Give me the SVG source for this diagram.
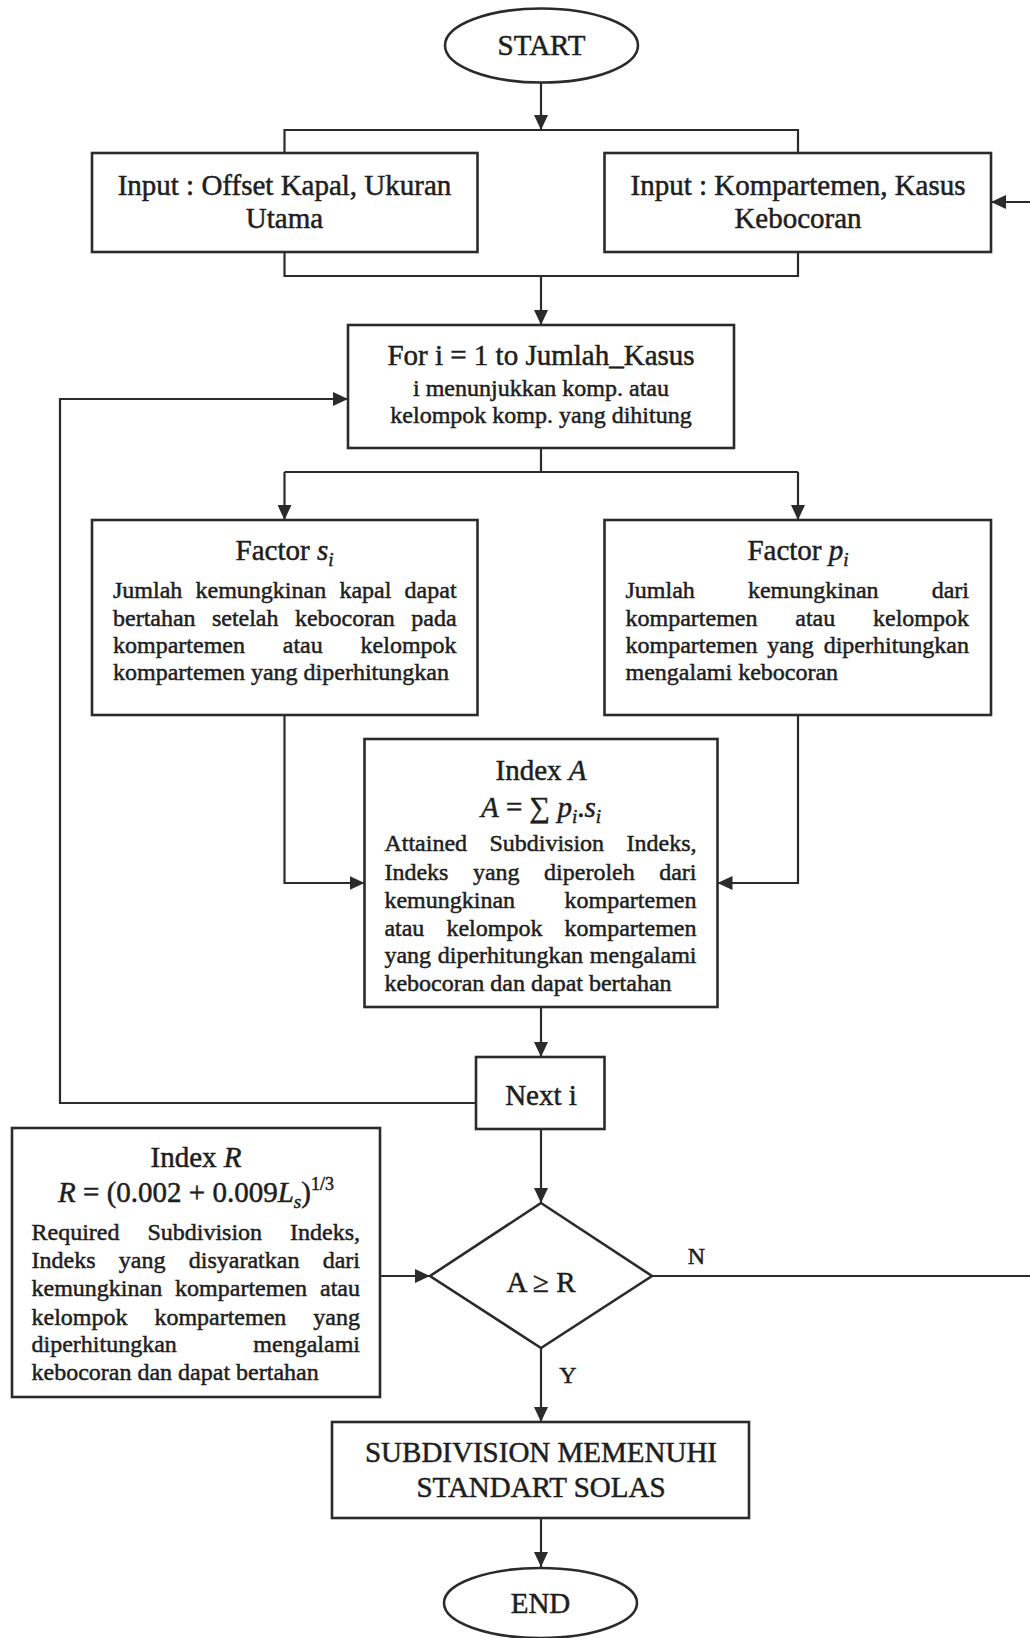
<svg xmlns="http://www.w3.org/2000/svg" width="1030" height="1638" viewBox="0 0 1030 1638">
  <style>
    .box { fill: #ffffff; stroke: #2b2b2b; stroke-width: 2.6; }
    .ln { fill: none; stroke: #2b2b2b; stroke-width: 2.2; }
    .arr { marker-end: url(#head); }
    text { font-family: "Liberation Serif", "Times New Roman", serif; fill: #1e1e1e; stroke: #1e1e1e; stroke-width: 0.5; }
    .h { font-size: 29px; text-anchor: middle; }
    .b { font-size: 24px; }
    .c { text-anchor: middle; }
    .e { text-anchor: end; }
    .i { font-style: italic; }
  </style>
  <defs>
    <marker id="head" viewBox="0 0 15 14" refX="15" refY="7" markerWidth="15" markerHeight="14" markerUnits="userSpaceOnUse" orient="auto">
      <path d="M0,0 L15,7 L0,14 Z" fill="#2b2b2b"/>
    </marker>
  </defs>

  <rect width="1030" height="1638" fill="#ffffff"/>

  <!-- connectors -->
  <g id="connectors">
    <path class="ln arr" d="M541,83 V130"/>
    <path class="ln" d="M284.5,153 V130 H798 V153"/>
    <path class="ln" d="M284.5,252 V276 H798 V252"/>
    <path class="ln arr" d="M541,276 V325"/>
    <path class="ln" d="M541,448 V472 M284.5,472 H798"/>
    <path class="ln arr" d="M284.5,472 V520"/>
    <path class="ln arr" d="M798,472 V520"/>
    <path class="ln arr" d="M284.5,715 V883 H364.5"/>
    <path class="ln arr" d="M798,715 V883 H717.5"/>
    <path class="ln arr" d="M541,1007 V1057"/>
    <path class="ln arr" d="M476,1103 H60 V399 H348"/>
    <path class="ln arr" d="M541,1129 V1203"/>
    <path class="ln arr" d="M380,1276 H430"/>
    <path class="ln arr" d="M652,1276 H1036 V202 H991"/>
    <path class="ln arr" d="M541,1348 V1422"/>
    <path class="ln arr" d="M541,1518 V1567"/>
    <text class="b c" x="696.5" y="1264">N</text>
    <text class="b c" x="568" y="1383">Y</text>
  </g>

  <g id="start">
    <ellipse class="box" cx="541.5" cy="45.5" rx="96.5" ry="37"/>
    <text class="h" x="541.5" y="55">START</text>
  </g>

  <g id="input-ship">
    <rect class="box" x="92" y="153" width="385.5" height="99"/>
    <text class="h" x="284.5" y="195">Input : Offset Kapal, Ukuran</text>
    <text class="h" x="284.5" y="228">Utama</text>
  </g>

  <g id="input-case">
    <rect class="box" x="604.5" y="153" width="386.5" height="99"/>
    <text class="h" x="798" y="195">Input : Kompartemen, Kasus</text>
    <text class="h" x="798" y="228">Kebocoran</text>
  </g>

  <g id="loop-start">
    <rect class="box" x="348" y="325" width="386" height="123"/>
    <text class="h" x="541" y="365">For i = 1 to Jumlah_Kasus</text>
    <text class="b c" x="541" y="396">i menunjukkan komp. atau</text>
    <text class="b c" x="541" y="423">kelompok komp. yang dihitung</text>
  </g>

  <!-- justified paragraphs: each word placed on its own, last word flush right -->
  <g id="factor-s">
    <rect class="box" x="92" y="520" width="385.5" height="195"/>
    <text class="h" x="284.5" y="560">Factor <tspan class="i">s</tspan><tspan class="i" font-size="19" dy="6">i</tspan></text>
    <text class="b"><tspan x="113" y="598">Jumlah</tspan><tspan x="195.5" y="598">kemungkinan</tspan><tspan x="339.4" y="598">kapal</tspan><tspan class="e" x="456.6" y="598">dapat</tspan></text>
    <text class="b"><tspan x="113" y="626">bertahan</tspan><tspan x="211.9" y="626">setelah</tspan><tspan x="294.9" y="626">kebocoran</tspan><tspan class="e" x="456.6" y="626">pada</tspan></text>
    <text class="b"><tspan x="113" y="653">kompartemen</tspan><tspan x="282.8" y="653">atau</tspan><tspan class="e" x="456.6" y="653">kelompok</tspan></text>
    <text class="b" x="113" y="680">kompartemen yang diperhitungkan</text>
  </g>

  <g id="factor-p">
    <rect class="box" x="604.5" y="520" width="386.5" height="195"/>
    <text class="h" x="798" y="560">Factor <tspan class="i">p</tspan><tspan class="i" font-size="19" dy="6">i</tspan></text>
    <text class="b"><tspan x="625.5" y="598">Jumlah</tspan><tspan x="747.9" y="598">kemungkinan</tspan><tspan class="e" x="969" y="598">dari</tspan></text>
    <text class="b"><tspan x="625.5" y="626">kompartemen</tspan><tspan x="795.3" y="626">atau</tspan><tspan class="e" x="969" y="626">kelompok</tspan></text>
    <text class="b"><tspan x="625.5" y="653">kompartemen</tspan><tspan x="767.2" y="653">yang</tspan><tspan class="e" x="969" y="653">diperhitungkan</tspan></text>
    <text class="b" x="625.5" y="680">mengalami kebocoran</text>
  </g>

  <g id="index-a">
    <rect class="box" x="364.5" y="739" width="353" height="268"/>
    <text class="h" x="541" y="780">Index <tspan class="i">A</tspan></text>
    <text class="h" x="541" y="817"><tspan class="i">A</tspan> = ∑ <tspan class="i">p</tspan><tspan class="i" font-size="19" dy="6">i</tspan><tspan dy="-6">.</tspan><tspan class="i">s</tspan><tspan class="i" font-size="19" dy="6">i</tspan></text>
    <text class="b"><tspan x="384.4" y="851">Attained</tspan><tspan x="489.4" y="851">Subdivision</tspan><tspan class="e" x="696.5" y="851">Indeks,</tspan></text>
    <text class="b"><tspan x="384.4" y="880">Indeks</tspan><tspan x="472.9" y="880">yang</tspan><tspan x="544.1" y="880">diperoleh</tspan><tspan class="e" x="696.5" y="880">dari</tspan></text>
    <text class="b"><tspan x="384.4" y="908">kemungkinan</tspan><tspan class="e" x="696.5" y="908">kompartemen</tspan></text>
    <text class="b"><tspan x="384.4" y="936">atau</tspan><tspan x="446.4" y="936">kelompok</tspan><tspan class="e" x="696.5" y="936">kompartemen</tspan></text>
    <text class="b"><tspan x="384.4" y="963">yang</tspan><tspan x="437.8" y="963">diperhitungkan</tspan><tspan class="e" x="696.5" y="963">mengalami</tspan></text>
    <text class="b" x="384.4" y="991">kebocoran dan dapat bertahan</text>
  </g>

  <g id="loop-next">
    <rect class="box" x="476" y="1057" width="128.5" height="72"/>
    <text class="h" x="541" y="1105">Next i</text>
  </g>

  <g id="index-r">
    <rect class="box" x="12" y="1128" width="368" height="269"/>
    <text class="h" x="196" y="1167">Index <tspan class="i">R</tspan></text>
    <text class="h" x="196" y="1202"><tspan class="i">R</tspan> = (0.002 + 0.009<tspan class="i">L</tspan><tspan class="i" font-size="19" dy="6">s</tspan><tspan dy="-6">)</tspan><tspan font-size="18" dy="-12">1/3</tspan></text>
    <text class="b"><tspan x="31.5" y="1240">Required</tspan><tspan x="147.4" y="1240">Subdivision</tspan><tspan class="e" x="360" y="1240">Indeks,</tspan></text>
    <text class="b"><tspan x="31.5" y="1268">Indeks</tspan><tspan x="118.8" y="1268">yang</tspan><tspan x="188.8" y="1268">disyaratkan</tspan><tspan class="e" x="360" y="1268">dari</tspan></text>
    <text class="b"><tspan x="31.5" y="1296">kemungkinan</tspan><tspan x="175.1" y="1296">kompartemen</tspan><tspan class="e" x="360" y="1296">atau</tspan></text>
    <text class="b"><tspan x="31.5" y="1325">kelompok</tspan><tspan x="154.4" y="1325">kompartemen</tspan><tspan class="e" x="360" y="1325">yang</tspan></text>
    <text class="b"><tspan x="31.5" y="1352">diperhitungkan</tspan><tspan class="e" x="360" y="1352">mengalami</tspan></text>
    <text class="b" x="31.5" y="1380">kebocoran dan dapat bertahan</text>
  </g>

  <g id="check">
    <path class="box" d="M541,1203 L652,1276 L541,1348 L430,1276 Z"/>
    <text class="h" x="541" y="1292">A ≥ R</text>
  </g>

  <g id="result">
    <rect class="box" x="332" y="1422" width="417" height="96"/>
    <text class="h" x="541" y="1462">SUBDIVISION MEMENUHI</text>
    <text class="h" x="541" y="1497">STANDART SOLAS</text>
  </g>

  <g id="end">
    <ellipse class="box" cx="540.5" cy="1603" rx="96.5" ry="35"/>
    <text class="h" x="540.5" y="1613">END</text>
  </g>
</svg>
